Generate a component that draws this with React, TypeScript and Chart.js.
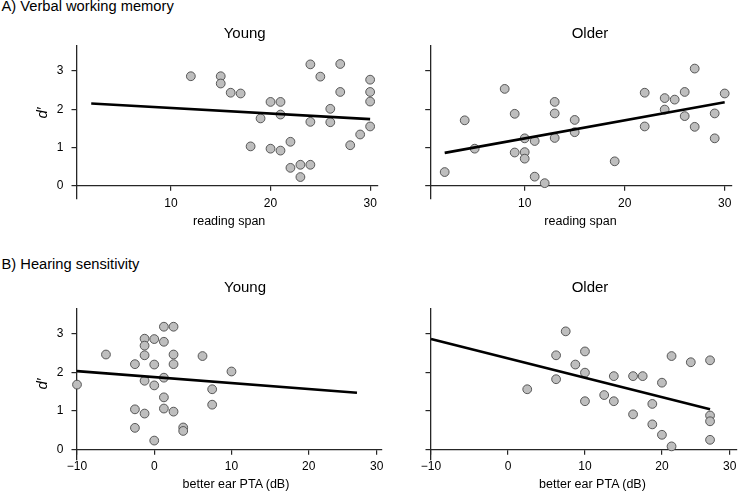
import React, { useEffect, useRef } from 'react';
import { Chart, registerables } from 'chart.js';

Chart.register(...registerables);

// ---------- data ----------
// A) Verbal working memory: reading span vs d'
const spanYoungX = [12, 15, 15, 16, 17, 20, 21, 19, 21, 18, 20, 21, 22, 22, 23, 24, 23, 24, 25, 27, 27, 26, 26, 24, 28, 29, 30, 30, 30, 30];
const spanYoungD = [2.86, 2.86, 2.67, 2.43, 2.41, 2.19, 2.19, 1.76, 1.86, 1.03, 0.97, 0.92, 1.15, 0.47, 0.55, 0.55, 0.23, 3.17, 2.85, 3.18, 2.45, 2.01, 1.66, 1.67, 1.06, 1.34, 2.77, 2.45, 2.2, 1.55];
const spanYoungFitX = [2, 30];
const spanYoungFitD = [2.15, 1.74];

const spanOlderX = [2, 4, 5, 8, 9, 9, 10, 10, 10, 11, 11, 12, 13, 13, 13, 15, 15, 19, 22, 22, 24, 24, 25, 26, 26, 27, 27, 29, 29, 30];
const spanOlderD = [0.36, 1.71, 0.97, 2.53, 1.88, 0.87, 1.24, 0.88, 0.71, 1.17, 0.24, 0.07, 2.19, 1.89, 1.25, 1.72, 1.4, 0.64, 2.43, 1.55, 2.29, 1.99, 2.25, 2.45, 1.82, 3.06, 1.54, 1.89, 1.24, 2.41];
const spanOlderFitX = [2, 30];
const spanOlderFitD = [0.86, 2.18];

// B) Hearing sensitivity: better ear PTA (dB) vs d'
const ptaYoungX = [-10, -6.25, -2.5, -2.5, -2.5, -1.25, -1.25, -1.25, -1.25, -1.25, 0, 0, 0, 0, 1.25, 1.25, 1.25, 1.25, 1.25, 2.5, 2.5, 2.5, 2.5, 3.75, 3.75, 6.25, 7.5, 7.5, 10];
const ptaYoungD = [1.68, 2.46, 2.21, 1.04, 0.56, 2.87, 2.69, 2.44, 1.78, 0.93, 2.86, 2.2, 1.66, 0.23, 3.18, 2.79, 1.86, 1.35, 1.06, 3.18, 2.46, 2.21, 0.98, 0.57, 0.48, 2.42, 1.56, 1.16, 2.02];
const ptaYoungFitX = [-10, 26.25];
const ptaYoungFitD = [2.03, 1.47];

const ptaOlderX = [2.5, 6.25, 6.25, 7.5, 8.75, 10, 10, 10, 12.5, 13.75, 13.75, 16.25, 16.25, 17.5, 18.75, 18.75, 20, 20, 21.25, 21.25, 23.75, 26.25, 26.25, 26.25, 26.25];
const ptaOlderD = [1.56, 2.44, 1.82, 3.06, 2.2, 2.54, 1.99, 1.25, 1.41, 1.9, 1.25, 1.9, 0.91, 1.9, 1.18, 0.65, 1.73, 0.38, 2.42, 0.08, 2.26, 2.31, 0.88, 0.73, 0.25];
const ptaOlderFitX = [-10, 26.25];
const ptaOlderFitD = [2.86, 1.04];

// ticks
const dTicks = [0, 1, 2, 3];
const dTickLabels = ['0', '1', '2', '3'];
const spanTicks = [10, 20, 30];
const spanTickLabels = ['10', '20', '30'];
const ptaTicks = [-10, 0, 10, 20, 28.8];
const ptaTickLabels = ['\u221210', '0', '10', '20', '30'];

// ---------- styling ----------
const FONT = "'Liberation Sans', Arial, Helvetica, sans-serif";
const AXIS = '#262626';

type PanelProps = {
  L: number; R: number; T: number; B: number;
  xMin: number; xMax: number; yMin: number; yMax: number;
  xs: number[]; ys: number[]; fitX: number[]; fitY: number[];
  xTicks: number[]; xLabels: string[]; showYLabels: boolean;
};

function Panel(p: PanelProps) {
  const ref = useRef<HTMLCanvasElement>(null);
  const axisW = 40;
  const cl = Math.floor(p.L - axisW - 10);
  const ct = Math.floor(p.T - 10);
  const cr = Math.ceil(p.R + 12);
  const cb = Math.ceil(p.B + 30);
  const w = cr - cl;
  const h = cb - ct;
  const pad = { left: p.L - axisW - cl, top: p.T - ct, right: cr - p.R, bottom: cb - p.B };

  useEffect(() => {
    const chart = new Chart(ref.current as HTMLCanvasElement, {
      type: 'scatter',
      data: {
        datasets: [
          {
            data: p.fitX.map((x, i) => ({ x, y: p.fitY[i] })),
            showLine: true,
            borderColor: '#000',
            borderWidth: 2.6,
            pointRadius: 0,
            order: 0,
            clip: false as any,
          },
          {
            data: p.xs.map((x, i) => ({ x, y: p.ys[i] })),
            pointRadius: 4.4,
            backgroundColor: '#bebebe',
            borderColor: '#4a4a4a',
            borderWidth: 0.9,
            order: 1,
            clip: false as any,
          },
        ],
      },
      options: {
        animation: false,
        responsive: false,
        events: [],
        layout: { padding: pad },
        plugins: { legend: { display: false }, tooltip: { enabled: false }, title: { display: false } },
        scales: {
          x: {
            type: 'linear',
            position: { y: 0 } as any,
            min: p.xMin,
            max: p.xMax,
            afterBuildTicks: (s: any) => { s.ticks = p.xTicks.map((v) => ({ value: v })); },
            ticks: {
              autoSkip: false,
              maxRotation: 0,
              padding: 6,
              color: '#000',
              font: { family: FONT, size: 12 },
              callback: (_v: any, i: number) => p.xLabels[i] ?? '',
            },
            grid: { drawOnChartArea: false, drawTicks: true, tickLength: 4.5, color: AXIS, lineWidth: 1.2 },
            border: { display: true, color: AXIS, width: 1.3 },
          },
          y: {
            type: 'linear',
            position: 'left',
            min: p.yMin,
            max: p.yMax,
            afterBuildTicks: (s: any) => { s.ticks = dTicks.map((v) => ({ value: v })); },
            afterFit: (s: any) => { s.width = axisW; },
            ticks: {
              autoSkip: false,
              padding: 8,
              color: '#000',
              font: { family: FONT, size: 12 },
              callback: (_v: any, i: number) => (p.showYLabels ? dTickLabels[i] ?? '' : ''),
            },
            grid: { drawOnChartArea: false, drawTicks: true, tickLength: 5.5, color: AXIS, lineWidth: 1.2 },
            border: { display: true, color: AXIS, width: 1.3 },
          },
        },
      } as any,
    });
    return () => chart.destroy();
  }, []);

  return (
    <canvas
      ref={ref}
      width={w}
      height={h}
      style={{ position: 'absolute', left: cl, top: ct, width: w, height: h }}
    />
  );
}

function Label(props: { text: React.ReactNode; x: number; baseline: number; size: number; align?: 'left' | 'center' }) {
  const { text, x, baseline, size, align = 'center' } = props;
  return (
    <div
      style={{
        position: 'absolute',
        left: x,
        top: baseline - 0.8465 * size,
        fontSize: size,
        lineHeight: `${size}px`,
        whiteSpace: 'nowrap',
        transform: align === 'center' ? 'translateX(-50%)' : undefined,
        color: '#000',
        fontFamily: FONT,
      }}
    >
      {text}
    </div>
  );
}

function YTitle(props: { cx: number; cy: number }) {
  return (
    <div
      style={{
        position: 'absolute',
        left: props.cx,
        top: props.cy,
        fontSize: 15,
        lineHeight: '15px',
        fontStyle: 'italic',
        whiteSpace: 'nowrap',
        transform: 'translate(-50%, -50%) rotate(-90deg)',
        fontFamily: FONT,
        color: '#000',
      }}
    >
      d′
    </div>
  );
}

export default function App() {
  useEffect(() => {
    document.body.style.margin = '0';
  }, []);
  return (
    <div style={{ position: 'absolute', left: 0, top: 0, width: 738, height: 501, overflow: 'hidden', background: '#fff', fontFamily: FONT }}>
      <Panel L={77} R={377.7} T={40} B={198.5} xMin={0.57} xMax={30.76} yMin={-0.33} yMax={3.67}
        xs={spanYoungX} ys={spanYoungD} fitX={spanYoungFitX} fitY={spanYoungFitD}
        xTicks={spanTicks} xLabels={spanTickLabels} showYLabels={true} />
      <Panel L={430.7} R={731.7} T={40} B={198.5} xMin={0.6} xMax={30.7} yMin={-0.33} yMax={3.67}
        xs={spanOlderX} ys={spanOlderD} fitX={spanOlderFitX} fitY={spanOlderFitD}
        xTicks={spanTicks} xLabels={spanTickLabels} showYLabels={false} />
      <Panel L={77} R={381.7} T={303.5} B={459.5} xMin={-10} xMax={29.45} yMin={-0.26} yMax={3.66}
        xs={ptaYoungX} ys={ptaYoungD} fitX={ptaYoungFitX} fitY={ptaYoungFitD}
        xTicks={ptaTicks} xLabels={ptaTickLabels} showYLabels={true} />
      <Panel L={431} R={736.6} T={303.5} B={459.5} xMin={-10} xMax={29.7} yMin={-0.26} yMax={3.66}
        xs={ptaOlderX} ys={ptaOlderD} fitX={ptaOlderFitX} fitY={ptaOlderFitD}
        xTicks={ptaTicks} xLabels={ptaTickLabels} showYLabels={false} />

      <Label text="A) Verbal working memory" x={1.5} baseline={11.8} size={14.7} align="left" />
      <Label text="Young" x={244.7} baseline={37.5} size={15} />
      <Label text="Older" x={590} baseline={37.5} size={15} />
      <Label text="reading span" x={229.2} baseline={225.8} size={12.5} />
      <Label text="reading span" x={580.5} baseline={225.8} size={12.5} />
      <YTitle cx={41} cy={113} />

      <Label text="B) Hearing sensitivity" x={1.5} baseline={269.5} size={14.7} align="left" />
      <Label text="Young" x={245} baseline={291.5} size={15} />
      <Label text="Older" x={590} baseline={291.5} size={15} />
      <Label text="better ear PTA (dB)" x={236} baseline={489} size={12.5} />
      <Label text="better ear PTA (dB)" x={592.5} baseline={489} size={12.5} />
      <YTitle cx={41} cy={384} />
    </div>
  );
}
